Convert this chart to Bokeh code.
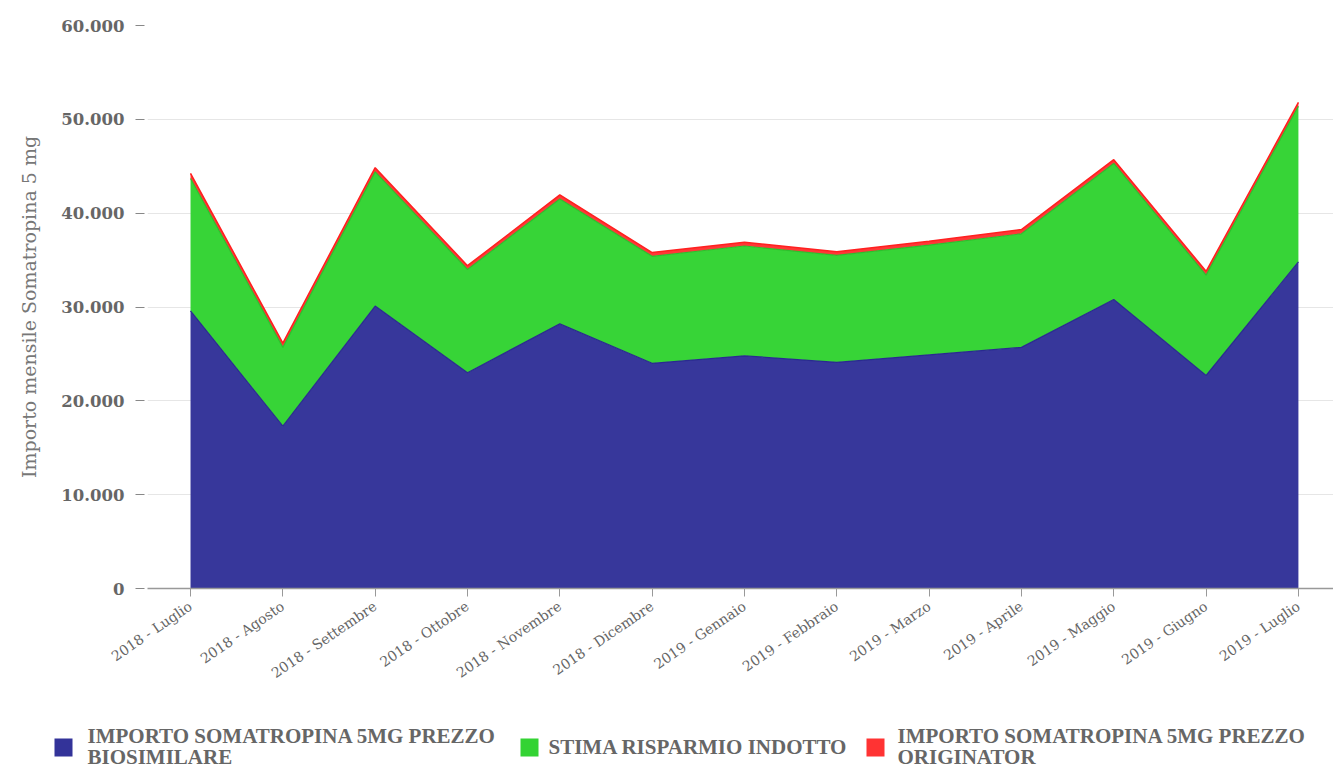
import numpy as np
from bokeh.plotting import figure
from bokeh.models import ColumnDataSource, FixedTicker, Range1d
from bokeh.embed import file_html
from bokeh.resources import INLINE
from bokeh.core.properties import value

months = ["2018 - Luglio", "2018 - Agosto", "2018 - Settembre", "2018 - Ottobre",
          "2018 - Novembre", "2018 - Dicembre", "2019 - Gennaio", "2019 - Febbraio",
          "2019 - Marzo", "2019 - Aprile", "2019 - Maggio", "2019 - Giugno", "2019 - Luglio"]
biosimilare = [29600, 17300, 30100, 23000, 28200, 24000, 24800, 24100, 24900, 25700, 30800, 22700, 34800]
risparmio = [14100, 8400, 14300, 11000, 13300, 11400, 11700, 11400, 11700, 12100, 14500, 10700, 16600]
originator = [550, 450, 450, 400, 450, 400, 400, 400, 400, 450, 400, 400, 400]
series_names = ["IMPORTO SOMATROPINA 5MG PREZZO BIOSIMILARE",
                "STIMA RISPARMIO INDOTTO",
                "IMPORTO SOMATROPINA 5MG PREZZO ORIGINATOR"]
y_ticks = [0, 10000, 20000, 30000, 40000, 50000, 60000]
y_tick_labels = ["0", "10.000", "20.000", "30.000", "40.000", "50.000", "60.000"]

colors = ["#333399", "#33D333", "#FF3333"]
edge_colors = ["#2a2a90", "#2cc02c", "#FF2020"]

x = list(range(len(months)))
src = ColumnDataSource(dict(x=x, bio=biosimilare, risp=risparmio, orig=originator))
top1 = list(np.array(biosimilare))
top2 = list(np.array(biosimilare) + np.array(risparmio))
top3 = list(np.array(top2) + np.array(originator))

FONT = "DejaVu Serif"

p = figure(width=1333, height=698, output_backend="svg", toolbar_location=None,
           x_range=Range1d(-0.466, 12.38), y_range=Range1d(0, 60000),
           min_border_left=147, min_border_top=25, min_border_bottom=110, min_border_right=0)
p.outline_line_color = None
p.background_fill_color = "white"

p.varea_stack(stackers=["bio", "risp", "orig"], x="x", source=src,
              color=colors, fill_alpha=0.98)
p.line(x, top1, line_color=edge_colors[0], line_width=1.2)
p.line(x, top2, line_color=edge_colors[1], line_width=1.2)
p.line(x, top3, line_color=edge_colors[2], line_width=1.5)

# axes
p.xaxis.ticker = FixedTicker(ticks=x)
p.xaxis.major_label_overrides = {i: m for i, m in enumerate(months)}
p.xaxis.major_label_orientation = 0.6
p.xaxis.major_label_text_font = FONT
p.xaxis.major_label_text_font_size = "14px"
p.xaxis.major_label_text_color = "#666666"
p.xaxis.axis_line_color = "#999999"
p.xaxis.axis_line_width = 1.5
p.xaxis.major_tick_line_color = "#999999"
p.xaxis.major_tick_out = 8
p.xaxis.major_tick_in = 0
p.xaxis.minor_tick_line_color = None
p.xaxis.major_label_standoff = 8

p.yaxis.ticker = FixedTicker(ticks=y_ticks)
p.yaxis.major_label_overrides = {t: l for t, l in zip(y_ticks, y_tick_labels)}
p.yaxis.major_label_text_font = FONT
p.yaxis.major_label_text_font_style = "bold"
p.yaxis.major_label_text_font_size = "16.5px"
p.yaxis.major_label_text_color = "#666666"
p.yaxis.axis_line_color = None
p.yaxis.major_tick_line_color = "#888888"
p.yaxis.major_tick_out = 12
p.yaxis.major_tick_in = -3
p.yaxis.minor_tick_line_color = None
p.yaxis.major_label_standoff = 11
p.yaxis.axis_label = "Importo mensile Somatropina 5 mg"
p.yaxis.axis_label_text_font = FONT
p.yaxis.axis_label_text_font_style = "normal"
p.yaxis.axis_label_text_font_size = "19px"
p.yaxis.axis_label_text_color = "#777777"
p.yaxis.axis_label_standoff = 18

p.xgrid.grid_line_color = None
p.ygrid.grid_line_color = "#e6e6e6"
p.ygrid.grid_line_width = 1
p.ygrid.level = "image"

# legend figure (separate root, page coordinates)
lg = figure(width=1333, height=70, output_backend="svg", toolbar_location=None,
            x_range=Range1d(0, 1333), y_range=Range1d(0, 70),
            min_border=0)
lg.axis.visible = False
lg.grid.visible = False
lg.outline_line_color = None

sq_x = [63, 529, 875]
lg.rect(x=sq_x, y=[21, 21, 21], width=18, height=18, fill_color=colors, line_color=None)

def split2(name):
    if name.startswith("IMPORTO"):
        head = "IMPORTO SOMATROPINA 5MG PREZZO"
        return [head, name[len(head) + 1:]]
    return [name]

tx, ty, tt = [], [], []
text_x = [87, 548, 897]
for i, name in enumerate(series_names):
    lines = split2(name)
    if len(lines) == 2:
        tx += [text_x[i], text_x[i]]
        ty += [33, 12]
        tt += lines
    else:
        tx.append(text_x[i]); ty.append(22); tt.append(lines[0])
lg.text(x=tx, y=ty, text=tt, text_font=value("Liberation Serif"), text_font_style="bold",
        text_font_size="21px", text_color="#666666", text_baseline="middle", text_align="left")

open("out.html", "w").write(file_html([p, lg], INLINE))
